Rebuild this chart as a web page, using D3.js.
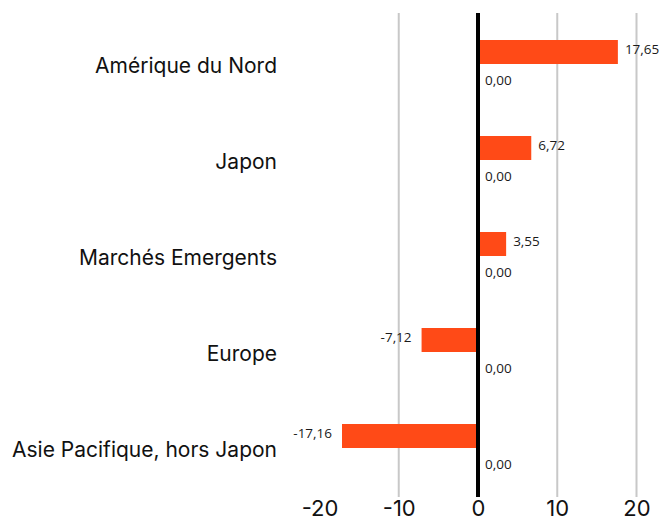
<!DOCTYPE html>
<html>
<head>
<meta charset="utf-8">
<script src="https://cdn.jsdelivr.net/npm/d3@7"></script>
<style>
  body { margin: 0; background: #fff; }
  svg { display: block; font-family: "Inter", sans-serif; }
</style>
</head>
<body>
<div class="chart"></div>
<script>
var categories = ["Amérique du Nord", "Japon", "Marchés Emergents", "Europe", "Asie Pacifique, hors Japon"];
var perfValues = [17.65, 6.72, 3.55, -7.12, -17.16];
var baseValues = [0.00, 0.00, 0.00, 0.00, 0.00];
var xTicks = [-20, -10, 0, 10, 20];

function fmt(v){
  return v.toFixed(2).replace(".", ",");
}

function barChart(){
  var w = 662;
  var h = 520;

  var svg = d3.select(".chart")
              .append("svg")
              .attr("width", w)
              .attr("height", h);

  var x = d3.scaleLinear()
            .domain([-20, 20])
            .range([319.5, 636.5]);

  var y = d3.scaleBand()
            .domain(categories)
            .range([16, 496])
            .paddingInner(0.5)
            .paddingOuter(0.25);

  var y1 = d3.scaleBand()
             .domain(["perf", "base"])
             .range([0, y.bandwidth()]);

  // gridlines
  svg.append("g")
      .selectAll("line")
      .data(xTicks.filter(function(d){ return d !== 0 && d !== -20; }))
      .join("line")
        .attr("x1", function(d){ return x(d); })
        .attr("x2", function(d){ return x(d); })
        .attr("y1", 13)
        .attr("y2", 497)
        .attr("stroke", "#c8c8c8")
        .attr("stroke-width", 2);

  var rows = categories.map(function(c, i){
    return {cat: c, perf: perfValues[i], base: baseValues[i]};
  });

  // bars
  svg.append("g")
      .attr("fill", "#ff4a17")
    .selectAll("rect")
    .data(rows)
    .join("rect")
      .attr("x", function(d){ return x(Math.min(0, d.perf)); })
      .attr("y", function(d){ return y(d.cat) + y1("perf"); })
      .attr("width", function(d){ return Math.abs(x(d.perf) - x(0)); })
      .attr("height", y1.bandwidth());

  // zero line
  svg.append("line")
      .attr("x1", x(0))
      .attr("x2", x(0))
      .attr("y1", 13)
      .attr("y2", 497)
      .attr("stroke", "#000")
      .attr("stroke-width", 4);

  // value labels
  svg.append("g")
      .style("font-size", "13.5px")
      .style("font-family", "Open Sans")
      .attr("fill", "#1a1a1a")
    .selectAll("text")
    .data(rows)
    .join("text")
      .attr("x", function(d){ return d.perf < 0 ? x(d.perf) - 10 : x(d.perf) + 7; })
      .attr("y", function(d){ return y(d.cat) + y1("perf") + y1.bandwidth() / 2 - 3; })
      .attr("dy", "0.35em")
      .attr("text-anchor", function(d){ return d.perf < 0 ? "end" : "start"; })
      .text(function(d){ return fmt(d.perf); });

  svg.append("g")
      .style("font-size", "13.5px")
      .style("font-family", "Open Sans")
      .attr("fill", "#1a1a1a")
    .selectAll("text")
    .data(rows)
    .join("text")
      .attr("x", x(0) + 7)
      .attr("y", function(d){ return y(d.cat) + y1("base") + y1.bandwidth() / 2 + 4; })
      .attr("dy", "0.35em")
      .text(function(d){ return fmt(d.base); });

  // category labels
  var yAxis = d3.axisLeft(y).tickSize(0).tickPadding(0);
  var yG = svg.append("g")
      .attr("transform", "translate(277,0)")
      .call(yAxis);
  yG.select(".domain").remove();
  yG.selectAll("text")
      .style("font-size", "21px")
      .style("font-family", "Inter")
      .attr("fill", "#111")
      .attr("dy", "0.42em");

  // x axis
  var xAxis = d3.axisBottom(x)
                .tickValues(xTicks)
                .tickFormat(function(d){ return String(d); })
                .tickSize(0)
                .tickPadding(0);
  var xG = svg.append("g")
      .attr("transform", "translate(0,500)")
      .call(xAxis);
  xG.select(".domain").remove();
  xG.selectAll("text")
      .style("font-size", "22px")
      .style("font-family", "Inter")
      .attr("fill", "#111")
      .attr("dy", "0.71em");
}

barChart();
</script>
</body>
</html>
